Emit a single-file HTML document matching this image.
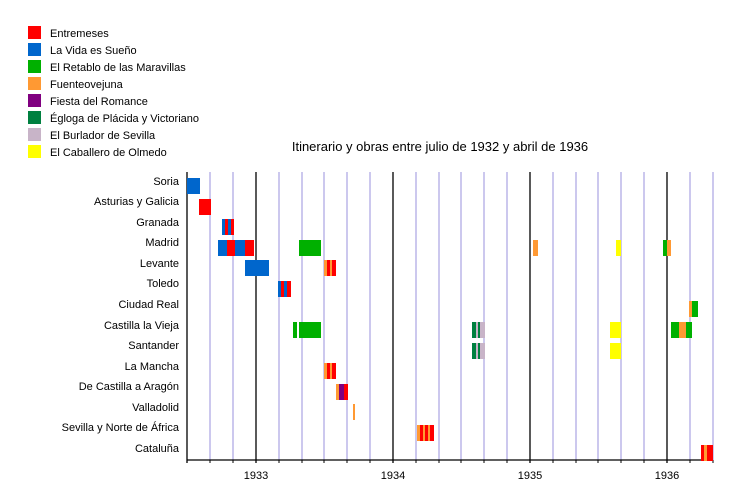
<!DOCTYPE html><html><head><style>body{margin:0;background:#fff}svg{display:block;font-family:"Liberation Sans",sans-serif}</style></head><body>
<svg width="750" height="480" xmlns="http://www.w3.org/2000/svg">
<g font-size="11" fill="#000">
<rect x="28" y="26" width="13" height="13" fill="#ff0000"/><text x="50" y="37">Entremeses</text>
<rect x="28" y="43" width="13" height="13" fill="#0066cc"/><text x="50" y="54">La Vida es Sueño</text>
<rect x="28" y="60" width="13" height="13" fill="#00b000"/><text x="50" y="71">El Retablo de las Maravillas</text>
<rect x="28" y="77" width="13" height="13" fill="#ff9933"/><text x="50" y="88">Fuenteovejuna</text>
<rect x="28" y="94" width="13" height="13" fill="#800080"/><text x="50" y="105">Fiesta del Romance</text>
<rect x="28" y="111" width="13" height="13" fill="#008040"/><text x="50" y="122">Égloga de Plácida y Victoriano</text>
<rect x="28" y="128" width="13" height="13" fill="#c8b4c8"/><text x="50" y="139">El Burlador de Sevilla</text>
<rect x="28" y="145" width="13" height="13" fill="#ffff00"/><text x="50" y="156">El Caballero de Olmedo</text>
</g>
<text x="440" y="151" font-size="13" text-anchor="middle">Itinerario y obras entre julio de 1932 y abril de 1936</text>
<g stroke="#9890dc" stroke-width="1">
<line x1="210" y1="172" x2="210" y2="460"/><line x1="233" y1="172" x2="233" y2="460"/>
<line x1="279" y1="172" x2="279" y2="460"/><line x1="302" y1="172" x2="302" y2="460"/><line x1="324" y1="172" x2="324" y2="460"/><line x1="347" y1="172" x2="347" y2="460"/><line x1="370" y1="172" x2="370" y2="460"/>
<line x1="416" y1="172" x2="416" y2="460"/><line x1="439" y1="172" x2="439" y2="460"/><line x1="461" y1="172" x2="461" y2="460"/><line x1="484" y1="172" x2="484" y2="460"/><line x1="507" y1="172" x2="507" y2="460"/>
<line x1="553" y1="172" x2="553" y2="460"/><line x1="576" y1="172" x2="576" y2="460"/><line x1="598" y1="172" x2="598" y2="460"/><line x1="621" y1="172" x2="621" y2="460"/><line x1="644" y1="172" x2="644" y2="460"/>
<line x1="690" y1="172" x2="690" y2="460"/><line x1="713" y1="172" x2="713" y2="460"/>
</g>
<g stroke="#000" stroke-width="1.3">
<line x1="256" y1="172" x2="256" y2="463"/><line x1="393" y1="172" x2="393" y2="463"/><line x1="530" y1="172" x2="530" y2="463"/><line x1="667" y1="172" x2="667" y2="463"/>
<line x1="187" y1="172" x2="187" y2="463"/><line x1="187" y1="460" x2="713" y2="460"/>
</g>
<g stroke="#000" stroke-width="1">
<line x1="210" y1="460" x2="210" y2="463"/><line x1="233" y1="460" x2="233" y2="463"/><line x1="279" y1="460" x2="279" y2="463"/><line x1="302" y1="460" x2="302" y2="463"/><line x1="324" y1="460" x2="324" y2="463"/><line x1="347" y1="460" x2="347" y2="463"/><line x1="370" y1="460" x2="370" y2="463"/><line x1="416" y1="460" x2="416" y2="463"/><line x1="439" y1="460" x2="439" y2="463"/><line x1="461" y1="460" x2="461" y2="463"/><line x1="484" y1="460" x2="484" y2="463"/><line x1="507" y1="460" x2="507" y2="463"/><line x1="553" y1="460" x2="553" y2="463"/><line x1="576" y1="460" x2="576" y2="463"/><line x1="598" y1="460" x2="598" y2="463"/><line x1="621" y1="460" x2="621" y2="463"/><line x1="644" y1="460" x2="644" y2="463"/><line x1="690" y1="460" x2="690" y2="463"/><line x1="713" y1="460" x2="713" y2="463"/>
</g>
<g font-size="11" text-anchor="middle"><text x="256" y="479">1933</text><text x="393" y="479">1934</text><text x="530" y="479">1935</text><text x="667" y="479">1936</text></g>
<g font-size="11" text-anchor="end">
<text x="179" y="185">Soria</text><text x="179" y="205">Asturias y Galicia</text><text x="179" y="226">Granada</text><text x="179" y="246">Madrid</text><text x="179" y="267">Levante</text><text x="179" y="287">Toledo</text><text x="179" y="308">Ciudad Real</text><text x="179" y="329">Castilla la Vieja</text><text x="179" y="349">Santander</text><text x="179" y="370">La Mancha</text><text x="179" y="390">De Castilla a Aragón</text><text x="179" y="411">Valladolid</text><text x="179" y="431">Sevilla y Norte de África</text><text x="179" y="452">Cataluña</text>
</g>
<g>
<rect x="187" y="178" width="13" height="16" fill="#0066cc"/>
<rect x="199" y="199" width="12" height="16" fill="#ff0000"/>
<rect x="222" y="219" width="3" height="16" fill="#0066cc"/><rect x="225" y="219" width="3" height="16" fill="#ff0000"/><rect x="228" y="219" width="3" height="16" fill="#0066cc"/><rect x="231" y="219" width="3" height="16" fill="#ff0000"/>
<rect x="218" y="240" width="9" height="16" fill="#0066cc"/><rect x="227" y="240" width="8" height="16" fill="#ff0000"/><rect x="235" y="240" width="10" height="16" fill="#0066cc"/><rect x="245" y="240" width="9" height="16" fill="#ff0000"/>
<rect x="299" y="240" width="22" height="16" fill="#00b000"/><rect x="533" y="240" width="5" height="16" fill="#ff9933"/><rect x="616" y="240" width="5" height="16" fill="#ffff00"/><rect x="663" y="240" width="4" height="16" fill="#00b000"/><rect x="667" y="240" width="4" height="16" fill="#ff9933"/>
<rect x="245" y="260" width="24" height="16" fill="#0066cc"/>
<rect x="324" y="260" width="3" height="16" fill="#ff9933"/><rect x="327" y="260" width="3" height="16" fill="#ff0000"/><rect x="330" y="260" width="2" height="16" fill="#ff9933"/><rect x="332" y="260" width="4" height="16" fill="#ff0000"/>
<rect x="278" y="281" width="3" height="16" fill="#0066cc"/><rect x="281" y="281" width="3" height="16" fill="#ff0000"/><rect x="284" y="281" width="3" height="16" fill="#0066cc"/><rect x="287" y="281" width="4" height="16" fill="#ff0000"/>
<rect x="689" y="301" width="3" height="16" fill="#ff9933"/><rect x="692" y="301" width="6" height="16" fill="#00b000"/>
<rect x="293" y="322" width="4" height="16" fill="#00b000"/><rect x="299" y="322" width="22" height="16" fill="#00b000"/>
<rect x="472" y="322" width="4" height="16" fill="#008040"/><rect x="476" y="322" width="2" height="16" fill="#c8b4c8"/><rect x="478" y="322" width="2" height="16" fill="#008040"/><rect x="480" y="322" width="5" height="16" fill="#c8b4c8"/>
<rect x="610" y="322" width="11" height="16" fill="#ffff00"/>
<rect x="671" y="322" width="8" height="16" fill="#00b000"/><rect x="679" y="322" width="7" height="16" fill="#ff9933"/><rect x="686" y="322" width="6" height="16" fill="#00b000"/>
<rect x="472" y="343" width="4" height="16" fill="#008040"/><rect x="476" y="343" width="2" height="16" fill="#c8b4c8"/><rect x="478" y="343" width="2" height="16" fill="#008040"/><rect x="480" y="343" width="5" height="16" fill="#c8b4c8"/>
<rect x="610" y="343" width="11" height="16" fill="#ffff00"/>
<rect x="324" y="363" width="3" height="16" fill="#ff9933"/><rect x="327" y="363" width="3" height="16" fill="#ff0000"/><rect x="330" y="363" width="2" height="16" fill="#ff9933"/><rect x="332" y="363" width="4" height="16" fill="#ff0000"/>
<rect x="336" y="384" width="3" height="16" fill="#ff9933"/><rect x="339" y="384" width="5" height="16" fill="#800080"/><rect x="344" y="384" width="4" height="16" fill="#ff0000"/>
<rect x="353" y="404" width="2" height="16" fill="#ff9933"/>
<rect x="417" y="425" width="3" height="16" fill="#ff9933"/><rect x="420" y="425" width="3" height="16" fill="#ff0000"/><rect x="423" y="425" width="2" height="16" fill="#ff9933"/><rect x="425" y="425" width="3" height="16" fill="#ff0000"/><rect x="428" y="425" width="2" height="16" fill="#ff9933"/><rect x="430" y="425" width="4" height="16" fill="#ff0000"/>
<rect x="701" y="445" width="3" height="16" fill="#ff0000"/><rect x="704" y="445" width="3" height="16" fill="#ff9933"/><rect x="707" y="445" width="6" height="16" fill="#ff0000"/>
</g>
</svg></body></html>
